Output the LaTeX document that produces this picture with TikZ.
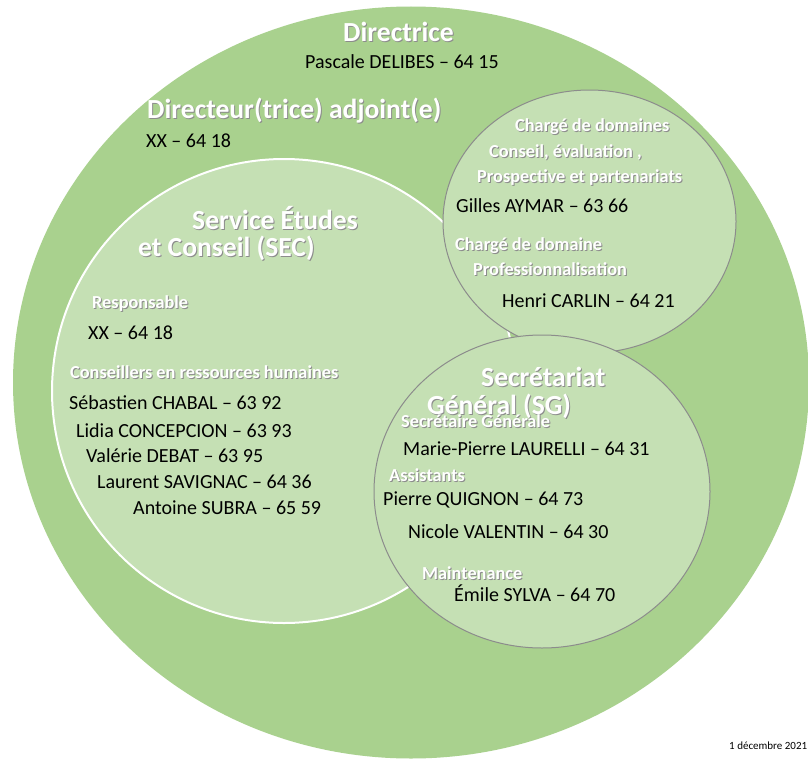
\documentclass[tikz,border=0pt]{standalone}
\usepackage{fontspec}
\setmainfont{Carlito}
\definecolor{outergreen}{HTML}{A9D18E}
\definecolor{innergreen}{HTML}{C5E0B4}
\definecolor{rimgrey}{HTML}{8C8C8C}
\newcommand\shd[1]{\leavevmode\rlap{\kern1pt\raisebox{-1pt}{\textcolor{black!45}{#1}}}#1}
\tikzset{
  bigtitle/.style={anchor=base west, inner sep=0pt, text=white, font=\fontsize{27.6}{30}\selectfont\bfseries},
  grouplabel/.style={anchor=base west, inner sep=0pt, text=white, font=\fontsize{18.3}{20}\selectfont\bfseries},
  person/.style={anchor=base west, inner sep=0pt, text=black, font=\fontsize{20}{22}\selectfont},
  datetext/.style={anchor=base west, inner sep=0pt, text=black, font=\fontsize{11}{13}\selectfont},
  bubble/.style={fill=innergreen, draw=rimgrey, line width=1pt}
}
\begin{document}
\begin{tikzpicture}[x=1pt,y=-1pt]
\useasboundingbox (0,0) rectangle (808,760);
\fill[white] (0,0) rectangle (808,760);
% outer circle
\fill[outergreen] (411,382.5) ellipse [x radius=398pt, y radius=376pt];
% SEC circle
\path[fill=innergreen, draw=white, line width=2pt] (284,391) circle [radius=232pt];
% Chargé de domaines circle
\path[bubble] (589.5,221.5) ellipse [x radius=146.5pt, y radius=131.5pt];
% SG circle
\path[bubble] (542,491.5) ellipse [x radius=168pt, y radius=156.5pt];

% titles
\node[bigtitle] (dir) at (343,42) {\shd{Directrice}};
\node[person] (dirname) at (305,69) {Pascale DELIBES – 64 15};
\node[bigtitle] (adj) at (147,118) {\shd{Directeur(trice) adjoint(e)}};
\node[person] (adjname) at (146,147) {XX – 64 18};

% SEC
\node[bigtitle] (sec1) at (192,229) {\shd{Service Études}};
\node[bigtitle] (sec2) at (138,256) {\shd{et Conseil (SEC)}};
\node[grouplabel] (resp) at (92,308) {\shd{Responsable}};
\node[person] (respname) at (88,339) {XX – 64 18};
\node[grouplabel] (crh) at (70,378) {\shd{Conseillers en ressources humaines}};
\node[person] (p1) at (69,409) {Sébastien CHABAL – 63 92};
\node[person] (p2) at (76,437) {Lidia CONCEPCION – 63 93};
\node[person] (p3) at (86,462) {Valérie DEBAT – 63 95};
\node[person] (p4) at (97,488) {Laurent SAVIGNAC – 64 36};
\node[person] (p5) at (133,514) {Antoine SUBRA – 65 59};

% Chargés de domaines
\node[grouplabel] (cd1) at (515,131) {\shd{Chargé de domaines}};
\node[grouplabel] (cd2) at (489,157) {\shd{Conseil, évaluation ,}};
\node[grouplabel] (cd3) at (477,182) {\shd{Prospective et partenariats}};
\node[person] (gilles) at (456,212) {Gilles AYMAR – 63 66};
\node[grouplabel] (cd4) at (455,250) {\shd{Chargé de domaine}};
\node[grouplabel] (cd5) at (473,275) {\shd{Professionnalisation}};
\node[person] (henri) at (502,307) {Henri CARLIN – 64 21};

% SG
\node[bigtitle] (sg1) at (481,386) {\shd{Secrétariat}};
\node[bigtitle] (sg2) at (427,414) {\shd{Général (SG)}};
\node[grouplabel] (sgl) at (401,427) {\shd{Secrétaire Générale}};
\node[person] (mp) at (403,455) {Marie-Pierre LAURELLI – 64 31};
\node[grouplabel] (ass) at (389,481) {\shd{Assistants}};
\node[person] (pq) at (383,505) {Pierre QUIGNON – 64 73};
\node[person] (nv) at (408,538) {Nicole VALENTIN – 64 30};
\node[grouplabel] (maint) at (422,579) {\shd{Maintenance}};
\node[person] (es) at (454,601) {Émile SYLVA – 64 70};

% date
\node[datetext] (date) at (729,749) {1 décembre 2021};
\end{tikzpicture}
\end{document}
